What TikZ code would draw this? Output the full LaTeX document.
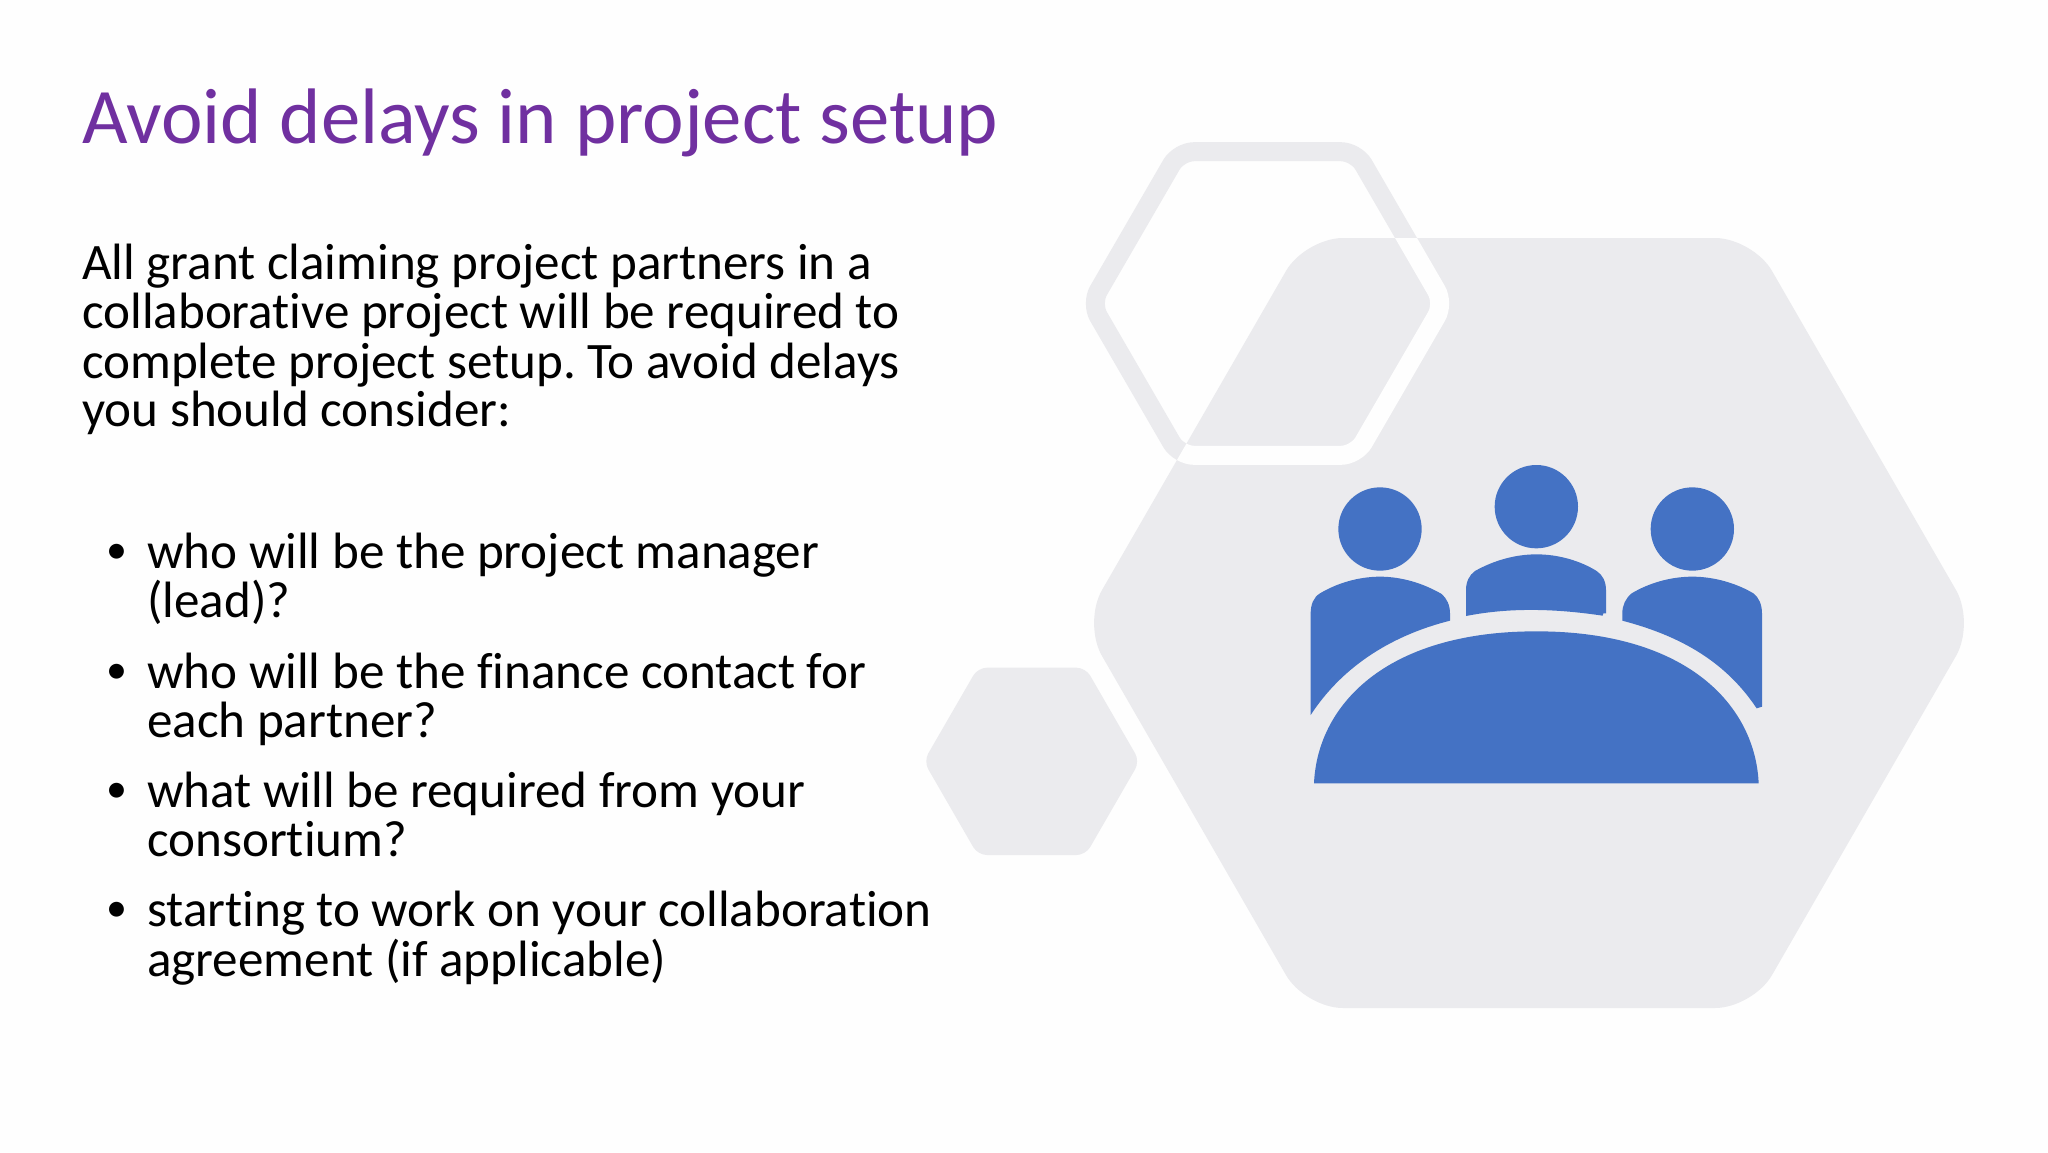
\documentclass[tikz,border=0pt]{standalone}
\usepackage{fontspec}
\setmainfont[RawFeature={-liga}]{Carlito}
\definecolor{hexgray}{HTML}{EBEBEE}
\definecolor{iconblue}{HTML}{4472C4}
\definecolor{titlepurple}{HTML}{7030A0}
\definecolor{pagebg}{HTML}{FEFEFE}
\tikzset{
  titletext/.style={anchor=base west,inner sep=0pt,text=titlepurple,font=\fontsize{78.7}{78.7}\selectfont},
  bodytext/.style={anchor=base west,inner sep=0pt,text=black,font=\fontsize{51.1}{51.1}\selectfont},
  bulletmark/.style={anchor=base,inner sep=0pt,text=black,font=\fontsize{42}{42}\selectfont},
  iconpart/.style={fill=iconblue,draw=none},
  hexfill/.style={fill=hexgray,draw=none}
}
\begin{document}
\frenchspacing
\begin{tikzpicture}[x=1pt,y=-1pt]
\useasboundingbox (0,0) rectangle (2048,1152);
\fill[pagebg] (0,0) rectangle (2048,1152);
% big hexagon
\fill[hexfill,rounded corners=38pt] (1083,623) -- (1305,238) -- (1753,238) -- (1975,623) -- (1753,1008) -- (1305,1008) -- cycle;
% small hexagon
\fill[hexfill,rounded corners=9pt] (923.7,761.3) -- (977.8,667.7) -- (1085.6,667.7) -- (1139.7,761.3) -- (1085.6,855) -- (977.8,855) -- cycle;
% outline hexagon, grey outside the big one and white inside it
\def\ringpath{(1091,303.5) -- (1179,151.7) -- (1356,151.7) -- (1444,303.5) -- (1356,455.3) -- (1179,455.3) -- cycle}
\draw[hexgray,line width=19pt,rounded corners=15pt] \ringpath;
\begin{scope}
\clip[rounded corners=38pt] (1083,623) -- (1305,238) -- (1753,238) -- (1975,623) -- (1753,1008) -- (1305,1008) -- cycle;
\draw[pagebg,line width=19pt,rounded corners=15pt] \ringpath;
\end{scope}
% icon, in zoomed coordinates
\begin{scope}[shift={(1280pt,-440pt)},x=0.33333pt,y=-0.33333pt]
\fill[iconpart] (300,267) circle[radius=125];
\fill[iconpart] (769,200) circle[radius=125];
\fill[iconpart] (1237,267) circle[radius=125];
\fill[iconpart] (102,1030) .. controls (112,800) and (312,574) .. (769,574) .. controls (1226,574) and (1426,800) .. (1436,1030) -- cycle;
\fill[iconpart] (92,825) -- (92,520) .. controls (92,495) and (100,472) .. (120,460) .. controls (170,430) and (235,410) .. (300,410) .. controls (365,410) and (430,430) .. (485,462) .. controls (500,475) and (510,495) .. (510,520) -- (510,542) .. controls (320,590) and (180,690) .. (92,825) -- cycle;
\fill[iconpart] (558,528) -- (558,450) .. controls (558,425) and (568,405) .. (585,393) .. controls (640,362) and (705,343) .. (769,343) .. controls (835,343) and (900,362) .. (950,393) .. controls (968,405) and (978,425) .. (978,450) -- (978,520) -- (970,520) -- (968,527) .. controls (840,508) and (700,500) .. (558,528) -- cycle;
\fill[iconpart] (1027,542) -- (1027,520) .. controls (1027,495) and (1037,475) .. (1055,460) .. controls (1105,430) and (1170,410) .. (1237,410) .. controls (1303,410) and (1370,430) .. (1420,460) .. controls (1437,472) and (1446,495) .. (1446,520) -- (1446,800) -- (1430,805) .. controls (1340,670) and (1210,590) .. (1027,542) -- cycle;
\end{scope}
% text
\node[titletext] (title) at (82,143.5) {Avoid delays in project setup};
\node[bodytext] (intro1) at (82,279.5) {All grant claiming project partners in a};
\node[bodytext] (intro2) at (82,328.5) {collaborative project will be required to};
\node[bodytext] (intro3) at (82,378) {complete project setup. To avoid delays};
\node[bodytext] (intro4) at (82,426.5) {you should consider:};
\node[bulletmark] (b1) at (116.7,563.2) {•};
\node[bodytext] (l1a) at (147,568) {who will be the project manager};
\node[bodytext] (l1b) at (147,617) {(lead)?};
\node[bulletmark] (b2) at (116.7,683.2) {•};
\node[bodytext] (l2a) at (147,688) {who will be the finance contact for};
\node[bodytext] (l2b) at (147,737) {each partner?};
\node[bulletmark] (b3) at (116.7,802.5) {•};
\node[bodytext] (l3a) at (147,807.3) {what will be required from your};
\node[bodytext] (l3b) at (147,856.5) {consortium?};
\node[bulletmark] (b4) at (116.7,921.8) {•};
\node[bodytext] (l4a) at (147,926.6) {starting to work on your collaboration};
\node[bodytext] (l4b) at (147,976) {agreement (if applicable)};
\end{tikzpicture}
\end{document}
